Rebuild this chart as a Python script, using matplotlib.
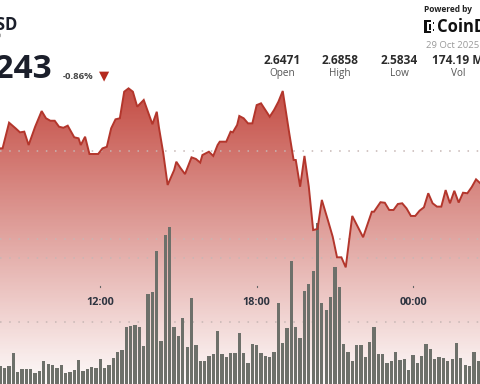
import numpy as np
import matplotlib
matplotlib.use("Agg")
import matplotlib.pyplot as plt
from matplotlib.patches import Rectangle
from matplotlib.transforms import blended_transform_factory

plt.rcParams['font.family'] = ['Open Sans', 'DejaVu Sans']

# ---------------- data ----------------
# price line: minutes relative to 12:00 (29 Oct), price in USD
price_minutes = [-235, -225, -210, -195, -185, -175, -165, -150, -135, -125, -115, -105,
                 -95, -85, -75, -60, -50, -45, -35, -25, -5, 5, 15, 25, 35, 45, 55, 65,
                 75, 85, 100, 120, 130, 135, 145, 155, 170, 175, 185, 195, 210, 220, 230,
                 235, 250, 260, 270, 275, 290, 300, 305, 315, 320, 330, 340, 350, 360,
                 370, 380, 390, 400, 410, 420, 435, 445, 450, 460, 470, 480, 490, 500,
                 510, 525, 535, 545, 555, 565, 580, 605, 625, 630, 645, 655, 665, 675,
                 685, 695, 705, 715, 725, 735, 745, 755, 765, 775, 785, 795, 805, 815,
                 825, 835, 845, 855, 865, 875]
price = [2.6515, 2.6515, 2.6661, 2.6629, 2.6606, 2.6610, 2.6534, 2.6638, 2.6727, 2.6686,
         2.6672, 2.6672, 2.6638, 2.6632, 2.6644, 2.6578, 2.6572, 2.6534, 2.6581, 2.6483,
         2.6483, 2.6515, 2.6524, 2.6629, 2.6680, 2.6686, 2.6837, 2.6856, 2.6837, 2.6752,
         2.6790, 2.6652, 2.6723, 2.6634, 2.6487, 2.6307, 2.6392, 2.6439, 2.6402, 2.6369,
         2.6464, 2.6455, 2.6434, 2.6477, 2.6496, 2.6472, 2.6534, 2.6553, 2.6553, 2.6610,
         2.6606, 2.6648, 2.6699, 2.6686, 2.6657, 2.6657, 2.6761, 2.6771, 2.6733, 2.6695,
         2.6733, 2.6780, 2.6841, 2.6601, 2.6449, 2.6449, 2.6297, 2.6472, 2.6297, 2.6051,
         2.6057, 2.6222, 2.6098, 2.6013, 2.5896, 2.5896, 2.5839, 2.6131, 2.6010, 2.6155,
         2.6155, 2.6209, 2.6206, 2.6165, 2.6165, 2.6199, 2.6203, 2.6174, 2.6131, 2.6131,
         2.6161, 2.6180, 2.6260, 2.6203, 2.6184, 2.6184, 2.6278, 2.6203, 2.6274, 2.6207,
         2.6263, 2.6260, 2.6295, 2.6339, 2.6316]

# volume bars: 10-minute buckets, first bucket centred at 08:10 (minute -230), millions
vol_start_minute = -230
vol_step = 10
volume = [1.59, 1.43, 1.56, 2.58, 1.12, 1.35, 1.30, 1.33, 1.02, 1.15, 1.95, 1.72, 1.62,
          1.43, 1.62, 1.02, 1.07, 1.23, 2.03, 1.15, 1.30, 1.51, 1.38, 2.09, 1.41, 1.62,
          2.21, 2.66, 2.84, 4.63, 4.71, 4.74, 4.63, 3.10, 7.19, 7.34, 10.55, 3.54, 11.80,
          12.40, 4.59, 3.91, 5.34, 3.02, 6.90, 3.23, 1.98, 1.98, 2.37, 2.48, 4.32, 2.50,
          2.27, 2.58, 2.60, 4.14, 2.55, 1.77, 3.28, 3.23, 2.55, 2.32, 2.29, 2.68, 6.46,
          3.38, 4.51, 9.77, 4.63, 3.77, 7.42, 7.97, 9.01, 12.71, 6.51, 5.94, 6.93, 9.32,
          7.73, 3.26, 2.66, 1.93, 3.23, 3.20, 2.29, 3.41, 4.63, 2.52, 2.50, 1.77, 1.93,
          2.68, 2.03, 2.11, 1.27, 2.45, 1.77, 2.34, 3.26, 2.87, 2.09, 2.24, 2.16, 1.98,
          2.11, 3.38, 2.19, 1.62, 1.56, 2.63, 1.93]

tick_minutes = [0, 360, 720]
tick_labels = ["12:00", "18:00", "00:00"]
price_grid = [2.60, 2.65]
volume_grid = [5, 10]

symbol = "XRPUSD"
last_price = "2.6243"
change = "-0.86%"
stat_values = ["2.6471", "2.6858", "2.5834", "174.19 M"]
stat_names = ["Open", "High", "Low", "Vol"]
date_text = "29 Oct 2025"

# ---------------- figure ----------------
W, H = 480, 384
fig = plt.figure(figsize=(W / 100, H / 100), dpi=100)
fig.patch.set_facecolor("white")

XLIM = (-230.9, 874.1)
PLIM = (2.51761, 2.73580)
VLIM = (0.156, 30.156)

ax = fig.add_axes([0, 0, 1, 1])
ax.set_xlim(*XLIM)
ax.set_ylim(*PLIM)
ax.axis("off")

# gradient area under the price line
pm = np.array(price_minutes)
pv = np.array(price)
poly = ax.fill_between(pm, pv, PLIM[0], facecolor="none", edgecolor="none")
n = 400
ypix = np.linspace(0, H, n)
alpha = np.clip(0.88 - (ypix - 90) / 294 * 0.86, 0.02, 0.95)
grad = np.zeros((n, 1, 4))
grad[:, 0, 0] = 0.74
grad[:, 0, 1] = 0.21
grad[:, 0, 2] = 0.17
grad[:, 0, 3] = alpha
im = ax.imshow(grad, extent=(XLIM[0], XLIM[1], PLIM[0], PLIM[1]), origin="upper",
               aspect="auto", zorder=1, interpolation="bilinear")
im.set_clip_path(poly.get_paths()[0], transform=ax.transData)

for g in price_grid:
    ax.axhline(g, color="#c6b6b4", lw=1.1, ls=(0, (1, 5)), zorder=2)

# volume axis
axv = fig.add_axes([0, 0, 1, 1], facecolor="none")
axv.set_xlim(*XLIM)
axv.set_ylim(*VLIM)
axv.axis("off")
for g in volume_grid:
    axv.axhline(g, color="#c6b6b4", lw=1.1, ls=(0, (1, 5)), zorder=1)
vx = vol_start_minute + vol_step * np.arange(len(volume))
axv.bar(vx, volume, width=7.6, color="#6d706a", zorder=2, linewidth=0)

# line axis on top
axl = fig.add_axes([0, 0, 1, 1], facecolor="none")
axl.set_xlim(*XLIM)
axl.set_ylim(*PLIM)
axl.axis("off")
axl.plot(pm, pv, color="#b3362c", lw=1.4, solid_joinstyle="miter", zorder=3)

# time ticks and labels
tr = blended_transform_factory(axl.transData, axl.transAxes)
for t, lab in zip(tick_minutes, tick_labels):
    axl.plot([t, t], [1 - 285.5 / H, 1 - 287 / H], transform=tr, color="#666666", lw=0.8)
    axl.text(t, 1 - 305.3 / H, lab, transform=tr, ha="center", va="baseline",
             fontsize=7.8, fontweight="bold", color="#2e3440")


def ftext(x, y, s, **kw):
    fig.text(x / W, 1 - y / H, s, **kw)


# header
ftext(17, 30, symbol, ha="right", va="baseline", fontsize=12, fontweight="bold", color="#1b1f2b")
ftext(2, 41, "XRP", ha="right", va="baseline", fontsize=7, color="#9a9a9a")
ftext(52.5, 77.5, last_price, ha="right", va="baseline", fontsize=24, fontweight="bold",
      color="#1b1f2b")
ftext(63, 79, change, ha="left", va="baseline", fontsize=6.8, fontweight="bold", color="#444444")
ftext(104, 75.5, "\u25BC", ha="center", va="center", fontsize=9.5, color="#b52a1e",
      family=["DejaVu Sans"])

centers = [282, 340, 399, 458]
for cx, v, nme in zip(centers, stat_values, stat_names):
    ftext(cx, 64.5, v, ha="center", va="baseline", fontsize=8.6, fontweight="bold",
          color="#2b2b2b")
    ftext(cx, 76, nme, ha="center", va="baseline", fontsize=7.2, color="#555555")

ftext(424, 11.5, "Powered by", ha="left", va="baseline", fontsize=6, fontweight="bold",
      color="#222222")
ftext(437, 32.5, "CoinDesk", ha="left", va="baseline", fontsize=12, fontweight="bold",
      color="#111111")
ftext(426, 48, date_text, ha="left", va="baseline", fontsize=6.8, color="#9a9a9a")

# logo icon
def prect(x0, y0, x1, y1):
    fig.add_artist(Rectangle((x0 / W, 1 - y1 / H), (x1 - x0) / W, (y1 - y0) / H,
                             transform=fig.transFigure, facecolor="#111111",
                             edgecolor="none"))

prect(424, 20, 426.5, 33)
prect(424, 20, 431, 22.3)
prect(424, 30.7, 431, 33)
prect(428.5, 24.5, 430.5, 26.5)
prect(428.5, 27.5, 430.5, 29.5)
prect(432.5, 22.5, 434.3, 24.3)
prect(432.5, 28.8, 434.3, 30.6)

fig.savefig("out.png", dpi=100)
